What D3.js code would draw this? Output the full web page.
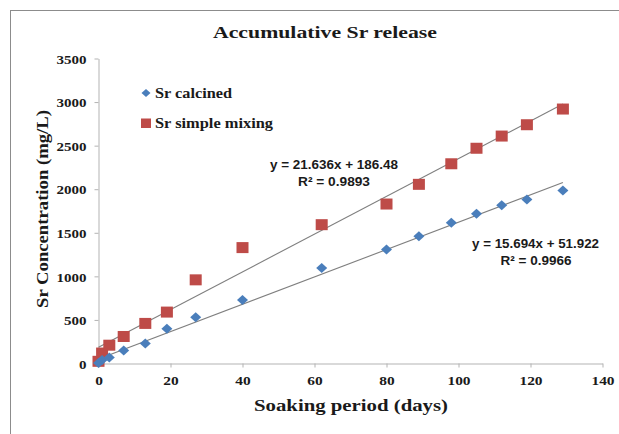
<!DOCTYPE html>
<html><head><meta charset="utf-8">
<script src="https://cdn.jsdelivr.net/npm/d3@7"></script>
<style>body{margin:0;background:#fff}svg{display:block}</style>
</head><body>
<script>
const days = [0, 1, 3, 7, 13, 19, 27, 40, 62, 80, 89, 98, 105, 112, 119, 129];
const calcined = [5, 40, 70, 150, 230, 400, 530, 730, 1096, 1308, 1461, 1614, 1718, 1815, 1882, 1985];
const simpleMixing = [25, 120, 210, 310, 460, 590, 960, 1330, 1593, 1830, 2056, 2292, 2470, 2610, 2740, 2920];
const xTicks = [0, 20, 40, 60, 80, 100, 120, 140];
const yTicks = [0, 500, 1000, 1500, 2000, 2500, 3000, 3500];
const fitCalcined = {slope: 15.694, intercept: 51.922, label: "y = 15.694x + 51.922", r2: "R\u00b2 = 0.9966"};
const fitMixing = {slope: 21.636, intercept: 186.48, label: "y = 21.636x + 186.48", r2: "R\u00b2 = 0.9893"};
const seriesNames = ["Sr calcined", "Sr simple mixing"];

const W = 619, H = 434;
const svg = d3.select("body").append("svg").attr("width", W).attr("height", H);
svg.append("rect").attr("x", 10.5).attr("y", 10.5).attr("width", W).attr("height", H)
  .attr("fill", "#fff").attr("stroke", "#8c8c8c").attr("stroke-width", 1);

const x = d3.scaleLinear().domain([0, 140]).range([98.5, 602.5]);
const y = d3.scaleLinear().domain([0, 3500]).range([363.5, 58.5]);
const serif = "'Liberation Serif','Times New Roman',serif";
const sans = "'Liberation Sans',Arial,sans-serif";

function txt(t, px, py, size, family, len, anchor) {
  const e = svg.append("text").attr("x", px).attr("y", py)
    .attr("text-anchor", anchor || "middle")
    .style("font-family", family).style("font-weight", "bold").style("font-size", size + "px")
    .attr("fill", "#1a1a1a").text(t);
  if (len) e.attr("textLength", len).attr("lengthAdjust", "spacingAndGlyphs");
  return e;
}

txt("Accumulative Sr release", 325, 38, 16.5, serif, 224);

const gx = svg.append("g").attr("transform", `translate(0,${y(0)})`)
  .call(d3.axisBottom(x).tickValues(xTicks).tickFormat(d3.format("d")).tickSize(4).tickPadding(8).tickSizeOuter(0));
const gy = svg.append("g").attr("transform", `translate(${x(0)},0)`)
  .call(d3.axisLeft(y).tickValues(yTicks).tickFormat(d3.format("d")).tickSize(4).tickPadding(8).tickSizeOuter(0));
[gx, gy].forEach(g => {
  g.attr("font-family", null).attr("font-size", null);
  g.selectAll("path,line").attr("stroke", "#b3b3b3");
  g.selectAll("text").style("font-family", serif).style("font-weight", "bold")
    .style("font-size", "13px").attr("fill", "#1a1a1a")
    .attr("lengthAdjust", "spacingAndGlyphs");
});
gx.selectAll(".tick text").attr("textLength", d => String(d).length * 7.7);
gy.selectAll(".tick text").attr("textLength", d => String(d).length * 7.5).attr("dy", "0.36em");

svg.append("text").attr("transform", "translate(48,209) rotate(-90)").attr("text-anchor", "middle")
  .style("font-family", serif).style("font-weight", "bold").style("font-size", "17.5px")
  .attr("fill", "#1a1a1a").attr("textLength", 198).attr("lengthAdjust", "spacingAndGlyphs")
  .text("Sr Concentration (mg/L)");
txt("Soaking period (days)", 351, 411, 17.5, serif, 194);

// trendlines
[fitMixing, fitCalcined].forEach(f => {
  svg.append("line").attr("x1", x(0)).attr("y1", y(f.intercept))
    .attr("x2", x(129)).attr("y2", y(f.intercept + f.slope * 129))
    .attr("stroke", "#7f7f7f").attr("stroke-width", 1.1);
});

const blue = "#4a7ebb", red = "#be4b48";
svg.append("g").selectAll("rect").data(days).join("rect")
  .attr("x", (d) => x(d) - 6).attr("y", (d, i) => y(simpleMixing[i]) - 5.5)
  .attr("width", 12).attr("height", 11).attr("fill", red);
svg.append("g").selectAll("path").data(days).join("path")
  .attr("d", "M0,-5L5.5,0L0,5L-5.5,0Z").attr("fill", blue)
  .attr("transform", (d, i) => `translate(${x(d)},${y(calcined[i])})`);

// legend
svg.append("path").attr("d", "M0,-4L4.5,0L0,4L-4.5,0Z").attr("fill", blue)
  .attr("transform", "translate(146,93)");
svg.append("rect").attr("x", 141).attr("y", 118.5).attr("width", 10).attr("height", 9.5).attr("fill", red);
txt(seriesNames[0], 155, 98, 14, serif, 77, "start");
txt(seriesNames[1], 155, 128, 14, serif, 118, "start");

// equations
txt(fitMixing.label, 334, 169, 12.5, sans, 128);
txt(fitMixing.r2, 334, 185.5, 12.5, sans, 72);
txt(fitCalcined.label, 535.5, 248, 12.5, sans, 127);
txt(fitCalcined.r2, 536, 264.5, 12.5, sans, 71);
</script>
</body></html>
